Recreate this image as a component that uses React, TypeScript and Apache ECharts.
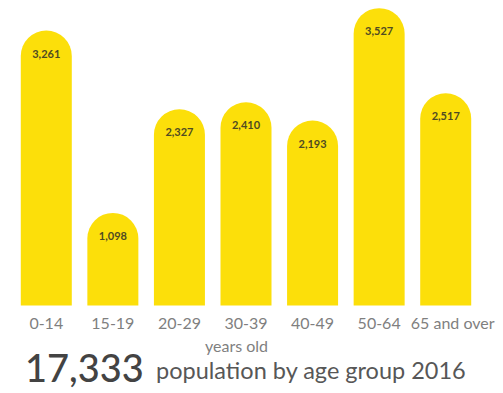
import React, { useEffect, useRef } from "react";
import * as echarts from "echarts";

const categories = ["0-14", "15-19", "20-29", "30-39", "40-49", "50-64", "65 and over"];
const populations = [3261, 1098, 2327, 2410, 2193, 3527, 2517];
const totalText = "17,333";
const subtitleText = "population by age group 2016";
const axisName = "years old";

export default function App() {
  const ref = useRef<HTMLDivElement>(null);
  useEffect(() => {
    if (!ref.current) return;
    const chart = echarts.init(ref.current, undefined, { renderer: "svg" });
    const catData = categories.map((c, i) =>
      i === categories.length - 1 ? { value: c, textStyle: { padding: [0, 0, 0, 14] } } : c
    );
    chart.setOption({
      animation: false,
      backgroundColor: "#ffffff",
      textStyle: { fontFamily: "Lato" },
      graphic: [
        {
          type: "text",
          left: 25,
          top: 348,
          style: {
            text: totalText,
            fontSize: 38,
            fontFamily: "Lato",
            fontWeight: 500,
            fill: "#434343",
          },
        },
        {
          type: "text",
          left: 156,
          top: 358,
          style: {
            text: subtitleText,
            fontSize: 23.5,
            fontFamily: "Lato",
            fontWeight: "normal",
            fill: "#575757",
          },
        },
      ],
      grid: { left: 13, right: 24, top: 2, bottom: 87.5 },
      xAxis: {
        type: "category",
        data: catData,
        axisLine: { show: false },
        axisTick: { show: false },
        axisLabel: { interval: 0, color: "#7f7f7f", fontSize: 16, margin: 9, fontFamily: "Lato" },
        name: axisName,
        nameLocation: "middle",
        nameGap: 32,
        nameTextStyle: { color: "#7f7f7f", fontSize: 16, fontFamily: "Lato", padding: [0, 19, 0, 0] },
      },
      yAxis: {
        type: "value",
        min: 0,
        max: 3600,
        show: false,
        splitLine: { show: false },
      },
      series: [
        {
          type: "bar",
          data: populations,
          barWidth: 51,
          itemStyle: { color: "#FCDF0A", borderRadius: [25.5, 25.5, 0, 0] },
          label: {
            show: true,
            position: "insideTop",
            distance: 17,
            color: "#4f4b22",
            fontSize: 11,
            fontWeight: "bold",
            fontFamily: "Lato",
            formatter: (p: any) => p.value.toLocaleString("en-US"),
          },
        },
      ],
    });
    return () => chart.dispose();
  }, []);
  return <div ref={ref} style={{ width: 503, height: 393, position: "absolute", left: 0, top: 0 }} />;
}
